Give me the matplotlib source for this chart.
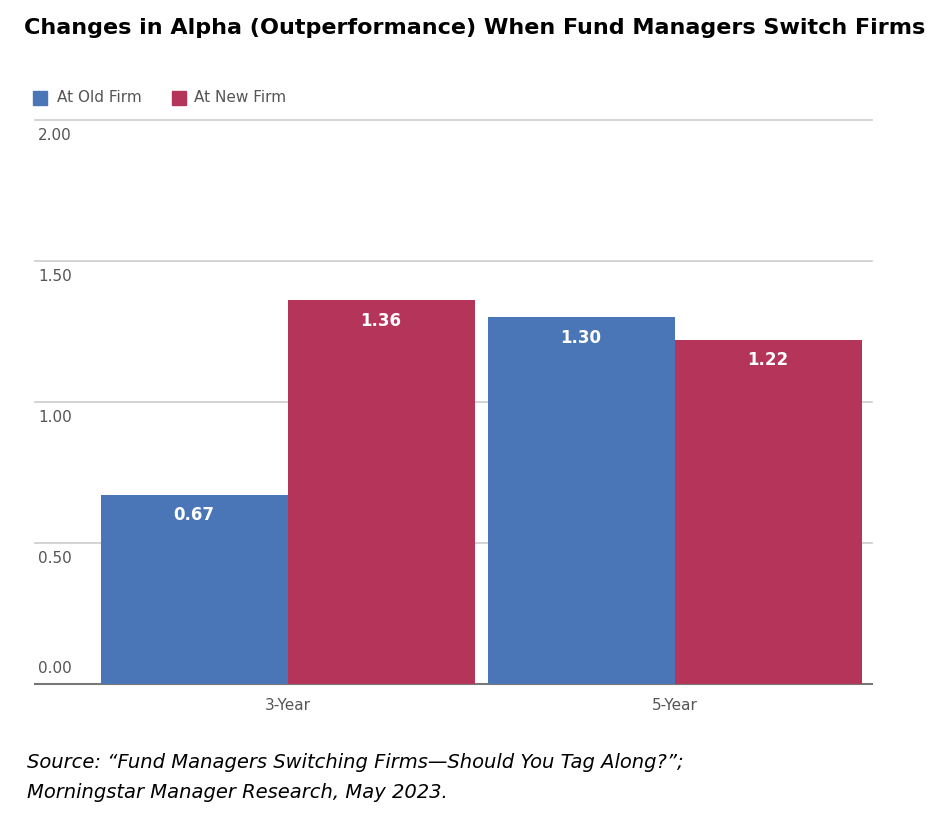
import matplotlib
matplotlib.use("Agg")
import matplotlib.pyplot as plt
import matplotlib.transforms as mtransforms

categories = ["3-Year", "5-Year"]
old_firm = [0.67, 1.30]
new_firm = [1.36, 1.22]
yticks = [0.0, 0.5, 1.0, 1.5, 2.0]
blue = "#4a76b8"
red = "#b5345a"

fig = plt.figure(figsize=(9.5, 8.25), dpi=100)
ax = fig.add_axes([0.105, 0.171, 0.813, 0.6836])
w = 0.483
x = range(len(categories))
b1 = ax.bar([i - w / 2 for i in x], old_firm, w, color=blue, zorder=2)
b2 = ax.bar([i + w / 2 for i in x], new_firm, w, color=red, zorder=2)
for bars, vals in ((b1, old_firm), (b2, new_firm)):
    for r, v in zip(bars, vals):
        ax.text(r.get_x() + r.get_width() / 2, v - 0.04, f"{v:.2f}", ha="center", va="top",
                color="white", fontweight="bold", fontsize=12, zorder=3)

ax.set_xlim(-0.485, 1.51)
ax.set_ylim(0, 2)
for s in ax.spines.values():
    s.set_visible(False)
ax.set_yticks([])
ax.set_xticks(list(x))
ax.set_xticklabels(categories, fontsize=11, color="#555555")
ax.tick_params(axis="x", length=0, pad=10)

trans = mtransforms.blended_transform_factory(fig.transFigure, ax.transData)
for t in yticks:
    col = "#777777" if t == 0 else "#cccccc"
    lw = 1.5 if t == 0 else 1.2
    ax.plot([35 / 950, 872 / 950], [t, t], transform=trans, color=col, lw=lw, clip_on=False, zorder=1)
    off = 0.055 if t == 0 else -0.055
    ax.text(38 / 950, t + off, f"{t:.2f}", transform=trans, ha="left", va="center",
            fontsize=11, color="#555555")

fig.text(0.5, 1 - 28 / 825, "Changes in Alpha (Outperformance) When Fund Managers Switch Firms",
         ha="center", va="center", fontsize=16, fontweight="bold")
fig.patches.append(plt.Rectangle((33 / 950, 1 - 105 / 825), 14 / 950, 14 / 825, color=blue, transform=fig.transFigure))
fig.text(57 / 950, 1 - 98 / 825, "At Old Firm", va="center", fontsize=11, color="#555555")
fig.patches.append(plt.Rectangle((172 / 950, 1 - 105 / 825), 14 / 950, 14 / 825, color=red, transform=fig.transFigure))
fig.text(194 / 950, 1 - 98 / 825, "At New Firm", va="center", fontsize=11, color="#555555")

fig.text(27 / 950, 1 - 763 / 825, "Source: \u201cFund Managers Switching Firms\u2014Should You Tag Along?\u201d;",
         va="center", fontsize=14, style="italic")
fig.text(27 / 950, 1 - 792 / 825, "Morningstar Manager Research, May 2023.",
         va="center", fontsize=14, style="italic")

fig.savefig("out.png", dpi=100)
